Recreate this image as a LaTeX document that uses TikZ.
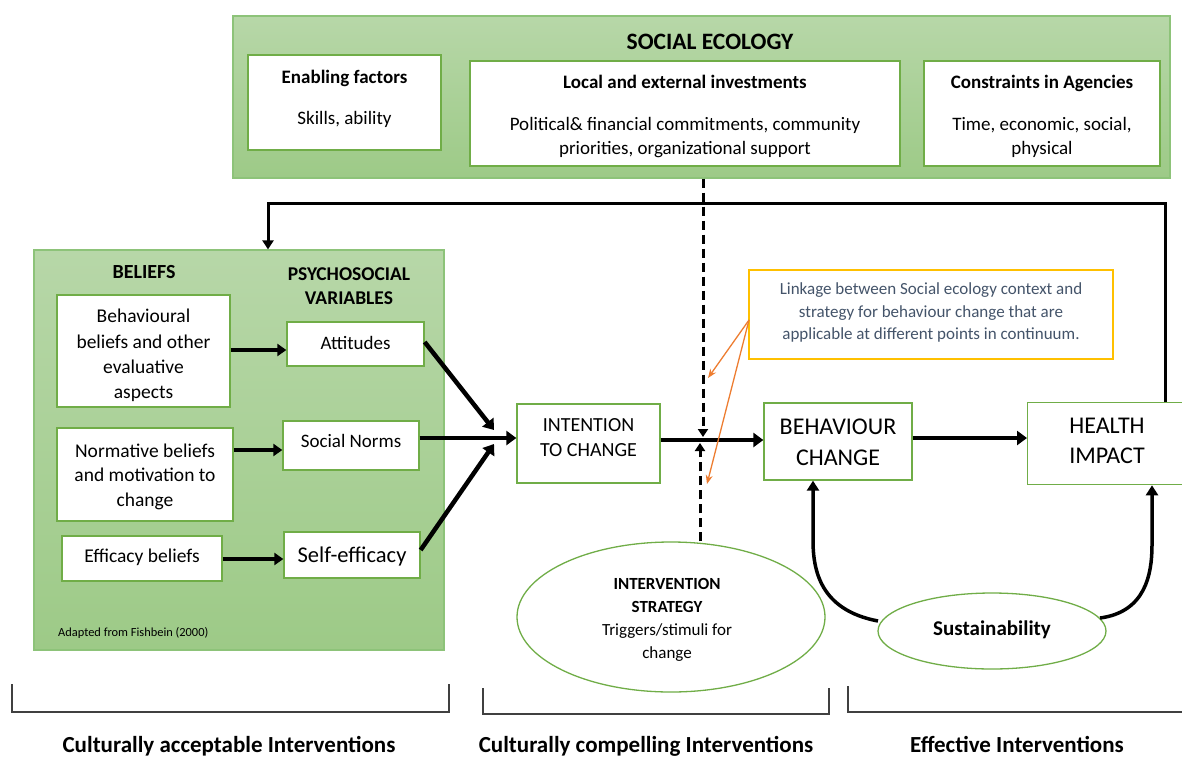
\documentclass[tikz,border=0pt]{standalone}
\usepackage{fontspec}
\setmainfont{Carlito}
\usetikzlibrary{arrows.meta,shapes.geometric,calc}
\definecolor{gborder}{HTML}{70AD47}
\definecolor{gtop}{HTML}{B7D7A8}
\definecolor{gbot}{HTML}{9DCA87}
\definecolor{gedge}{HTML}{8DC379}
\definecolor{orng}{HTML}{ED7D31}
\definecolor{yel}{HTML}{FFC000}
\definecolor{slate}{HTML}{44546A}
\newcommand{\fs}[2]{\fontsize{#1}{#2}\selectfont}
\tikzset{
  gpanel/.style={draw=gedge, line width=1.2pt, top color=gtop, bottom color=gbot, inner sep=0pt},
  wbox/.style={draw=gborder, line width=1.3pt, fill=white, inner sep=0pt},
  txt/.style={inner sep=0pt, align=center, text depth=0pt},
  bigarrow/.style={line width=4.5pt, -{Triangle[length=10pt,width=14pt]}},
  medarrow/.style={line width=3.5pt, -{Triangle[length=9pt,width=12pt]}},
  dasharrow/.style={line width=3pt, dash pattern=on 9pt off 5pt, -{Triangle[length=8pt,width=10pt]}},
  orarrow/.style={draw=orng, line width=1.3pt, -{Stealth[length=9pt,width=7pt]}},
  bracket/.style={draw=black!75, line width=1.2pt},
  gell/.style={ellipse, draw=gborder, line width=1.3pt, fill=white, inner sep=0pt}
}
\begin{document}
\begin{tikzpicture}[x=1pt,y=-1pt]
\useasboundingbox (0,0) rectangle (1182,758);

% ---------- Social ecology panel ----------
\node[gpanel, minimum width=937pt, minimum height=162pt] (soceco) at (701.5,97) {};
\node[txt, font=\fs{23.5}{28}\bfseries] (socecoT) at (710,42) {SOCIAL ECOLOGY};

\node[wbox, minimum width=193pt, minimum height=95pt] (enab) at (344.5,102.5) {};
\node[txt, font=\fs{19}{24}\bfseries] (enabT) at (344.5,77) {Enabling factors};
\node[txt, font=\fs{19}{24}] (enabB) at (344.5,118) {Skills, ability};

\node[wbox, minimum width=430pt, minimum height=105pt] (inv) at (685,113.5) {};
\node[txt, font=\fs{19}{24}\bfseries] (invT) at (685,82) {Local and external investments};
\node[txt, font=\fs{19}{24}] (invB) at (685,136) {Political\& financial commitments, community\\priorities, organizational support};

\node[wbox, minimum width=236pt, minimum height=105pt] (cons) at (1042,113.5) {};
\node[txt, font=\fs{19}{24}\bfseries] (consT) at (1042,82) {Constraints in Agencies};
\node[txt, font=\fs{19}{24}] (consB) at (1042,136) {Time, economic, social,\\physical};

% ---------- Beliefs panel ----------
\node[gpanel, minimum width=410pt, minimum height=400pt] (beliefs) at (239,450) {};
\node[txt, font=\fs{20}{24}\bfseries] (belT) at (144,272) {BELIEFS};
\node[txt, font=\fs{19.5}{24}\bfseries] (psyT) at (349,286) {PSYCHOSOCIAL\\VARIABLES};

\node[wbox, minimum width=173pt, minimum height=112pt] (behb) at (143.5,351) {};
\node[txt, font=\fs{19.5}{25.3}] (behbT) at (143.5,354) {Behavioural\\beliefs and other\\evaluative\\aspects};

\node[wbox, minimum width=137pt, minimum height=44pt] (att) at (355.5,344) {};
\node[txt, font=\fs{19}{24}] (attT) at (355.5,343) {Attitudes};

\node[wbox, minimum width=176pt, minimum height=93pt] (norm) at (145,474.5) {};
\node[txt, font=\fs{19.5}{24.5}] (normT) at (145,475) {Normative beliefs\\and motivation to\\change};

\node[wbox, minimum width=136pt, minimum height=49pt] (sn) at (351,445.5) {};
\node[txt, font=\fs{19}{24}] (snT) at (351,441) {Social Norms};

\node[wbox, minimum width=160pt, minimum height=45pt] (effb) at (142,558.5) {};
\node[txt, font=\fs{19.5}{24}] (effbT) at (142,556) {Efficacy beliefs};

\node[wbox, minimum width=136pt, minimum height=46pt] (se) at (352,555) {};
\node[txt, font=\fs{22.5}{26}] (seT) at (352,555) {Self-efficacy};

\node[txt, font=\fs{12.4}{15}, anchor=west] (adapt) at (58,632) {Adapted from Fishbein (2000)};

\draw[medarrow] (behb.east |- 0,350) -- (att.west |- 0,350);
\draw[medarrow] (norm.east |- 0,450) -- (sn.west |- 0,450);
\draw[medarrow] (effb.east |- 0,559) -- (se.west |- 0,559);

% ---------- Main chain ----------
\node[wbox, minimum width=143pt, minimum height=79pt] (int) at (588.5,443.5) {};
\node[txt, font=\fs{20}{25}] (intT) at (588.5,438) {INTENTION\\TO CHANGE};

\node[wbox, minimum width=148pt, minimum height=77pt] (beh) at (838,441.5) {};
\node[txt, font=\fs{24}{31}] (behT) at (838,442) {BEHAVIOUR\\CHANGE};

\node[wbox, minimum width=170pt, minimum height=82pt, anchor=north west] (hi) at (1027,402) {};
\node[txt, font=\fs{24}{30}] (hiT) at (1107,440.5) {HEALTH\\IMPACT};

\coordinate (conv1) at (494,430);
\coordinate (conv3) at (494,444);
\draw[bigarrow] (att.east |- 0,342) -- (conv1);
\draw[bigarrow] (se.east |- 0,550) -- (conv3);
\draw[bigarrow] (sn.east |- 0,438) -- (int.west |- 0,438);
\draw[bigarrow] (int.east |- 0,440) -- (beh.west |- 0,440);
\draw[bigarrow] (beh.east |- 0,438) -- (hi.west |- 0,438);

% feedback loop
\coordinate (fb1) at (1165,203);
\coordinate (fb2) at (268,203);
\draw[line width=3pt, -{Triangle[length=9pt,width=11pt]}] (hi.north -| fb1) -- (fb1) -- (fb2) -- (beliefs.north -| fb2);

% ---------- Intervention strategy ----------
\node[gell, minimum width=308pt, minimum height=150pt] (strat) at (671,617) {};
\node[txt, font=\fs{17}{22.7}\bfseries] (stratT) at (667,595.5) {INTERVENTION\\STRATEGY};
\node[txt, font=\fs{17}{22.7}] (stratB) at (667,641) {Triggers/stimuli for\\change};

\draw[dasharrow] (soceco.south -| 703,0) -- (703,437);
\draw[dasharrow] (strat.north -| 700,0) -- (700,443);

% ---------- Linkage note ----------
\node[draw=yel, line width=1.3pt, fill=white, minimum width=364pt, minimum height=89pt, inner sep=0pt] (link) at (931,314.5) {};
\node[txt, font=\fs{17}{22.5}, text=slate] (linkT) at (931,311.5) {Linkage between Social ecology context and\\strategy for behaviour change that are\\applicable at different points in continuum.};
\coordinate (lnk) at (749,320);
\draw[orarrow] (lnk) -- (708,378);
\draw[orarrow] (lnk) -- (707,484);

% ---------- Sustainability ----------
\node[gell, minimum width=228pt, minimum height=76pt] (sus) at (992,631) {};
\node[txt, font=\fs{21}{25}\bfseries] (susT) at (992,628) {Sustainability};
\draw[line width=3.5pt, -{Triangle[length=10pt,width=12pt]}] (878,621) .. controls (820,610) and (813,570) .. (813,540) -- (beh.south -| 813,0);
\draw[line width=3.5pt, -{Triangle[length=10pt,width=12pt]}] (1100,618) .. controls (1145,612) and (1152,575) .. (1152,545) -- (hi.south -| 1152,0);

% ---------- Brackets ----------
\draw[bracket] (12,684) -- (12,712) -- (449,712) -- (449,684);
\draw[bracket] (483,688) -- (483,714) -- (829,714) -- (829,688);
\draw[bracket] (848,686) -- (848,712) -- (1185,712);

\node[txt, font=\fs{23}{27}\bfseries, anchor=base] (lab1) at (229,752) {Culturally acceptable Interventions};
\node[txt, font=\fs{23}{27}\bfseries, anchor=base] (lab2) at (646,752) {Culturally compelling Interventions};
\node[txt, font=\fs{23}{27}\bfseries, anchor=base] (lab3) at (1017,752) {Effective Interventions};
\end{tikzpicture}
\end{document}
